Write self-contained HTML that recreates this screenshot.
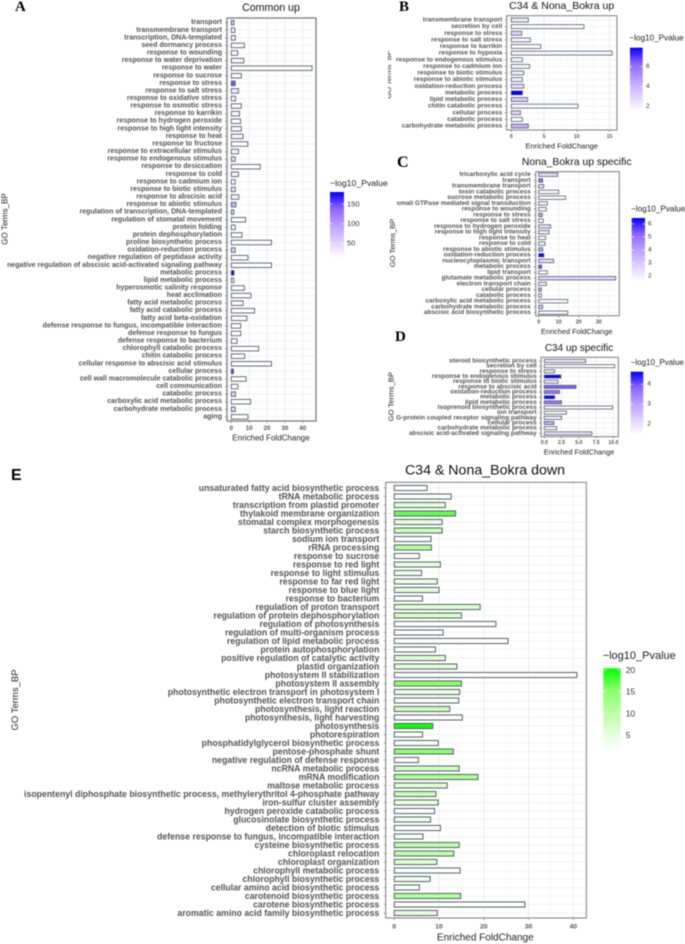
<!DOCTYPE html>
<html lang="en">
<head>
<meta charset="utf-8">
<title>GO enrichment panels</title>
<style>
html,body{margin:0;padding:0;background:#fff;width:685px;height:944px;overflow:hidden}
svg{display:block;filter:blur(0.45px)}
text{font-family:"Liberation Sans",sans-serif}
.title{fill:#111;text-anchor:middle;dominant-baseline:central}
.axt{fill:#222;text-anchor:middle;dominant-baseline:central}
.lgt{fill:#222;dominant-baseline:central}
.letter{font-family:"Liberation Serif",serif;font-weight:bold;fill:#000}
</style>
</head>
<body>
<svg id="figure" width="685" height="944" viewBox="0 0 685 944" xmlns="http://www.w3.org/2000/svg">
  <rect width="685" height="944" fill="#fff"/>
  <defs>
    <clipPath id="clip-b-title"><rect x="388" y="40" width="4" height="70"/></clipPath>
  </defs>

  <text class="letter" x="15" y="11" font-size="15">A</text>
  <text class="letter" x="399" y="11" font-size="15">B</text>
  <text class="letter" x="397" y="167" font-size="16">C</text>
  <text class="letter" x="395" y="341" font-size="15">D</text>
  <text x="11" y="480" font-size="16" font-weight="bold" fill="#000">E</text>

  <text class="title" x="271" y="8" font-size="10.6">Common up</text>
  <text class="title" x="561.7" y="6" font-size="10.5">C34 &amp; Nona_Bokra up</text>
  <text class="title" x="576.7" y="162.3" font-size="10.4">Nona_Bokra up specific</text>
  <text class="title" x="579" y="348.7" font-size="10">C34 up specific</text>
  <text class="title" x="485" y="470.7" font-size="14.2">C34 &amp; Nona_Bokra down</text>

  <text class="axt" x="271" y="438" font-size="8">Enriched FoldChange</text>
  <text class="axt" x="561.7" y="146" font-size="7.5">Enriched FoldChange</text>
  <text class="axt" x="576.7" y="331.7" font-size="7.4">Enriched FoldChange</text>
  <text class="axt" x="579" y="452" font-size="7.3">Enriched FoldChange</text>
  <text class="axt" x="485.3" y="938" font-size="10">Enriched FoldChange</text>

  <text class="axt" transform="translate(5 219) rotate(-90)" font-size="8">GO Terms_BP</text>
  <g clip-path="url(#clip-b-title)">
    <text class="axt" transform="translate(388.5 74.5) rotate(-90)" font-size="7.5">GO Terms_BP</text>
  </g>
  <text class="axt" transform="translate(392.7 243) rotate(-90)" font-size="7.5">GO Terms_BP</text>
  <text class="axt" transform="translate(391 396.7) rotate(-90)" font-size="7.7">GO Terms_BP</text>
  <text class="axt" transform="translate(15.7 700) rotate(-90)" font-size="9.5">GO Terms_BP</text>

  <text class="lgt" x="330" y="183" font-size="8.7">−log10_Pvalue</text>
  <text class="lgt" x="629.3" y="38" font-size="8.2">−log10_Pvalue</text>
  <text class="lgt" x="631" y="209" font-size="8.2">−log10_Pvalue</text>
  <text class="lgt" x="630.7" y="362.7" font-size="8">−log10_Pvalue</text>
  <text class="lgt" x="602.7" y="656" font-size="11">−log10_Pvalue</text>
</svg>

<script>
// ---------- Panel A: Common up ----------
const aTerms = ["transport","transmembrane transport","transcription, DNA-templated","seed dormancy process","response to wounding","response to water deprivation","response to water","response to sucrose","response to stress","response to salt stress","response to oxidative stress","response to osmotic stress","response to karrikin","response to hydrogen peroxide","response to high light intensity","response to heat","response to fructose","response to extracellular stimulus","response to endogenous stimulus","response to desiccation","response to cold","response to cadmium ion","response to biotic stimulus","response to abscisic acid","response to abiotic stimulus","regulation of transcription, DNA-templated","regulation of stomatal movement","protein folding","protein dephosphorylation","proline biosynthetic process","oxidation-reduction process","negative regulation of peptidase activity","negative regulation of abscisic acid-activated signaling pathway","metabolic process","lipid metabolic process","hyperosmotic salinity response","heat acclimation","fatty acid metabolic process","fatty acid catabolic process","fatty acid beta-oxidation","defense response to fungus, incompatible interaction","defense response to fungus","defense response to bacterium","chlorophyll catabolic process","chitin catabolic process","cellular response to abscisic acid stimulus","cellular process","cell wall macromolecule catabolic process","cell communication","catabolic process","carboxylic acid metabolic process","carbohydrate metabolic process","aging"];
const aFold = [1.5,2,2.2,7.3,3.6,7,45.2,5.6,2.2,4,2.4,5.6,4.6,5.2,5.6,6.6,9.2,4,2.2,16.2,4,2.2,2.2,4.2,2.6,1.4,8,2.2,6,22.5,2.2,9.3,22.5,1.5,1.4,7.3,11,6.6,13,8.7,5.3,5.3,3.2,15.3,7.5,22.5,1.2,8.3,3.7,2.4,10.8,2.2,9.3];
const aPval = [60,18,18,16,16,20,14,18,145,30,14,20,16,14,20,22,14,24,45,14,22,15,35,25,80,45,16,15,18,15,50,16,16,181,25,14,14,18,14,16,15,14,14,14,14,14,155,14,14,50,14,50,14];
const aTicks = [0,10,20,30,40];
const aLegendTicks = [150,100,50];
const aRange = [12,181];

// ---------- Panel B: C34 & Nona_Bokra up ----------
const bTerms = ["transmembrane transport","secretion by cell","response to stress","response to salt stress","response to karrikin","response to hypoxia","response to endogenous stimulus","response to cadmium ion","response to biotic stimulus","response to abiotic stimulus","oxidation-reduction process","metabolic process","lipid metabolic process","chitin catabolic process","cellular process","catabolic process","carbohydrate metabolic process"];
const bFold = [2.6,11.1,1.6,2.9,4.5,15.4,1.7,2.8,1.9,1.7,1.9,1.7,2.5,10.2,1.4,1.7,2.6];
const bPval = [2.2,1.7,3,2,1.7,1.9,1.6,1.9,2.2,2.2,2.7,7.9,3.3,1.7,3,1.6,4.2];
const bTicks = [0,5,10,15];
const bLegendTicks = [6,4,2];
const bRange = [1.5,7.9];

// ---------- Panel C: Nona_Bokra up specific ----------
const cTerms = ["tricarboxylic acid cycle","transport","transmembrane transport","toxin catabolic process","sucrose metabolic process","small GTPase mediated signal transduction","response to wounding","response to stress","response to salt stress","response to hydrogen peroxide","response to high light intensity","response to heat","response to cold","response to abiotic stimulus","oxidation-reduction process","nucleocytoplasmic transport","metabolic process","lipid transport","glutamate metabolic process","electron transport chain","cellular process","catabolic process","carboxylic acid metabolic process","carbohydrate metabolic process","abscisic acid biosynthetic process"];
const cFold = [9.5,2,2.5,10,13.5,4.3,3.8,1.8,2.3,6,5.2,3.5,3.2,2,2.6,7.5,1.5,4.3,38.5,3.8,1.3,1.4,14.5,2,14.5];
const cPval = [2.5,5,2.5,1.7,1.7,1.9,1.7,4,1.6,2.4,2.2,1.6,2,3.8,6.4,2.5,5.5,1.7,2.7,2.2,3.5,1.7,1.7,3.2,1.9];
const cTicks = [0,10,20,30];
const cLegendTicks = [6,5,4,3,2];
const cRange = [1.56,6.46];

// ---------- Panel D: C34 up specific ----------
const dTerms = ["steroid biosynthetic process","secretion by cell","response to stress","response to endogenous stimulus","response to biotic stimulus","response to abscisic acid","oxidation-reduction process","metabolic process","lipid metabolic process","isoprenoid biosynthetic process","ion transport","G-protein coupled receptor signaling pathway","cellular process","carbohydrate metabolic process","abscisic acid-activated signaling pathway"];
const dFold = [6,10.2,1.5,2.4,2,4.6,2.2,1.5,2.5,9.9,3.2,2.5,1.4,1.8,6.9];
const dPval = [1.9,1.5,1.9,4.6,1.8,3.9,3.6,4.6,3.6,1.5,1.6,1.7,2.8,1.6,2];
const dTicks = [0,2.5,5,7.5,10];
const dTickLabels = ["0.0","2.5","5.0","7.5","10.0"];
const dLegendTicks = [4,3,2];
const dRange = [1.45,4.63];

// ---------- Panel E: C34 & Nona_Bokra down ----------
const eTerms = ["unsaturated fatty acid biosynthetic process","tRNA metabolic process","transcription from plastid promoter","thylakoid membrane organization","stomatal complex morphogenesis","starch biosynthetic process","sodium ion transport","rRNA processing","response to sucrose","response to red light","response to light stimulus","response to far red light","response to blue light","response to bacterium","regulation of proton transport","regulation of protein dephosphorylation","regulation of photosynthesis","regulation of multi-organism process","regulation of lipid metabolic process","protein autophosphorylation","positive regulation of catalytic activity","plastid organization","photosystem II stabilization","photosystem II assembly","photosynthetic electron transport in photosystem I","photosynthetic electron transport chain","photosynthesis, light reaction","photosynthesis, light harvesting","photosynthesis","photorespiration","phosphatidylglycerol biosynthetic process","pentose-phosphate shunt","negative regulation of defense response","ncRNA metabolic process","mRNA modification","maltose metabolic process","isopentenyl diphosphate biosynthetic process, methylerythritol 4-phosphate pathway","iron-sulfur cluster assembly","hydrogen peroxide catabolic process","glucosinolate biosynthetic process","detection of biotic stimulus","defense response to fungus, incompatible interaction","cysteine biosynthetic process","chloroplast relocation","chloroplast organization","chlorophyll metabolic process","chlorophyll biosynthetic process","cellular amino acid biosynthetic process","carotenoid biosynthetic process","carotene biosynthetic process","aromatic amino acid family biosynthetic process"];
const eFold = [7.3,12.7,11.4,13.7,10.7,10.7,8.2,8.3,5.6,10.3,6.1,9.6,10,6.3,19.2,15,22.7,10.9,25.4,9.2,11.4,14,40.8,15,14.6,14.4,12.4,15.2,8.6,6.3,9.8,13.2,5.4,14.5,18.7,11.8,9.3,9.8,9,8.1,10.3,6.4,14.5,13.3,9.5,14.7,8,5.6,14.8,29.2,9.6];
const ePval = [2,3,6,17,5,9,2,11,1.7,5,4,4,5,3,6,7,1.7,2,2,2.5,6,6,1.8,15,5,3,8,2,20,2,3,15,1.7,8,12,6,9,5,1.7,4,1.8,3,10,10,6,1.9,4,3,11,2,5];
const eTicks = [0,10,20,30,40];
const eLegendTicks = [20,15,10,5];
const eRange = [1.5,20.4];

// ---------- Colour ramps (white to saturated, Lab-like) ----------
const blueRamp = ["#ffffff","#e1cfff","#bc9eff","#8e64ff","#0000ff"];
const greenRamp = ["#ffffff","#dcffd0","#b4ff9c","#84ff64","#00ff00"];

const NS = "http://www.w3.org/2000/svg";
const figure = document.getElementById("figure");

function make(tag, attrs, parent) {
  const el = document.createElementNS(NS, tag);
  for (const k in attrs) el.setAttribute(k, attrs[k]);
  parent.appendChild(el);
  return el;
}
function hex(c) {
  return [parseInt(c.slice(1,3),16), parseInt(c.slice(3,5),16), parseInt(c.slice(5,7),16)];
}
function rampColor(ramp, t) {
  t = Math.max(0, Math.min(1, t));
  const p = t * (ramp.length - 1);
  const i = Math.min(ramp.length - 2, Math.floor(p));
  const a = hex(ramp[i]), b = hex(ramp[i+1]);
  const f = p - i;
  return "rgb(" + a.map((v,k) => Math.round(v + (b[k]-v)*f)).join(",") + ")";
}

function drawPlot(g) {
  const group = make("g", {}, figure);
  
  
  const xScale = v => g.x0 + v * g.unit;
  const yScale = i => g.y0 + i * g.dy;
  const step = g.ticks[1] - g.ticks[0];

  const plotBg = make("rect", {x:g.l, y:g.t, width:g.r-g.l, height:g.b-g.t, fill:"#fff"}, group);
  
  

  // vertical minor grid
  for (let v = g.ticks[0] + step/2; xScale(v) < g.r; v += step) {
    const m = make("line", {x1:xScale(v), x2:xScale(v), y1:g.t, y2:g.b, stroke:"#f3f3f3", "stroke-width":0.5}, group);
    
    
  }
  // vertical major grid + x ticks
  g.ticks.forEach((v, i) => {
    const x = xScale(v);
    const gl = make("line", {x1:x, x2:x, y1:g.t, y2:g.b, stroke:"#e8e8e8", "stroke-width":0.8}, group);
    
    
    const tk = make("line", {x1:x, x2:x, y1:g.b, y2:g.b+2, stroke:"#666", "stroke-width":0.6}, group);
    
    
    const tl = make("text", {x:x, y:g.tickY, "text-anchor":"middle", "dominant-baseline":"central", "font-size":g.tickSize, "font-weight":"bold", fill:"#555"}, group);
    
    
    tl.textContent = g.tickLabels ? g.tickLabels[i] : v;
  });
  // rows
  g.terms.forEach((term, i) => {
    const y = yScale(i);
    const rowGrid = make("line", {x1:g.l, x2:g.r, y1:y, y2:y, stroke:"#eeeeee", "stroke-width":0.7}, group);
    
    
    const tk = make("line", {x1:g.l-2, x2:g.l, y1:y, y2:y, stroke:"#666", "stroke-width":0.6}, group);
    
    
    const lab = make("text", {x:g.labelRight, y:y, "text-anchor":"end", "dominant-baseline":"central", "font-size":g.labelSize, "font-weight":"bold", fill:"#555"}, group);
    
    
    lab.textContent = term;
  });
  // bars
  g.terms.forEach((term, i) => {
    const h = g.dy * 0.6;
    const t = (g.pval[i] - g.range[0]) / (g.range[1] - g.range[0]);
    const bar = make("rect", {x:xScale(0), y:yScale(i)-h/2, width:xScale(g.fold[i])-xScale(0), height:h, fill:rampColor(g.ramp, t), stroke:"#56606c", "stroke-width":g.barStroke}, group);
    
    
  });
  const frame = make("rect", {x:g.l, y:g.t, width:g.r-g.l, height:g.b-g.t, fill:"none", stroke:"#858585", "stroke-width":g.frame}, group);
  
  
}

function drawLegend(g) {
  const group = make("g", {}, figure);
  
  
  const defs = make("linearGradient", {id:"grad-"+g.id, x1:0, x2:0, y1:1, y2:0}, group);
  g.ramp.forEach((c, i) => make("stop", {offset:i/(g.ramp.length-1), "stop-color":c}, defs));
  const bar = make("rect", {x:g.l, y:g.t, width:g.w, height:g.b-g.t, fill:"url(#grad-"+g.id+")"}, group);
  
  
  const lScale = v => g.b - (v - g.range[0]) / (g.range[1] - g.range[0]) * (g.b - g.t);
  g.ticks.forEach(v => {
    const y = lScale(v);
    const t1 = make("line", {x1:g.l, x2:g.l+g.w*0.2, y1:y, y2:y, stroke:"#fff", "stroke-width":0.6}, group);
    
    
    const t2 = make("line", {x1:g.l+g.w*0.8, x2:g.l+g.w, y1:y, y2:y, stroke:"#fff", "stroke-width":0.6}, group);
    
    
    const lab = make("text", {x:g.labelX, y:y, "dominant-baseline":"central", "font-size":g.size, fill:"#333"}, group);
    
    
    lab.textContent = v;
  });
}

drawPlot({terms:aTerms, fold:aFold, pval:aPval, ticks:aTicks, range:aRange, ramp:blueRamp,
  l:227, r:316, t:18, b:421, x0:231.3, unit:1.785, y0:22.7, dy:7.58,
  labelRight:222, labelSize:7.06, tickY:428.7, tickSize:6.2, barStroke:0.9, frame:1.4});
drawPlot({terms:bTerms, fold:bFold, pval:bPval, ticks:bTicks, range:bRange, ramp:blueRamp,
  l:506.7, r:617, t:15.7, b:130, x0:511.3, unit:6.55, y0:20, dy:6.625,
  labelRight:502.3, labelSize:6.54, tickY:137, tickSize:5.2, barStroke:0.8, frame:1.1});
drawPlot({terms:cTerms, fold:cFold, pval:cPval, ticks:cTicks, range:cRange, ramp:blueRamp,
  l:535.7, r:619.3, t:171.7, b:315.7, x0:538.7, unit:2, y0:174.7, dy:5.75,
  labelRight:530.7, labelSize:6.47, tickY:322.3, tickSize:5.4, barStroke:0.8, frame:1.1});
drawPlot({terms:dTerms, fold:dFold, pval:dPval, ticks:dTicks, tickLabels:dTickLabels, range:dRange, ramp:blueRamp,
  l:541, r:618.3, t:357.3, b:436.7, x0:544.3, unit:6.9, y0:361, dy:5.17,
  labelRight:536.7, labelSize:6.45, tickY:443, tickSize:5.2, barStroke:0.8, frame:1.1});
drawPlot({terms:eTerms, fold:eFold, pval:ePval, ticks:eTicks, range:eRange, ramp:greenRamp,
  l:385.7, r:586.3, t:482.3, b:918, x0:394.3, unit:4.475, y0:488, dy:8.5,
  labelRight:379.3, labelSize:8.74, tickY:927, tickSize:6.8, barStroke:1, frame:1.1});

drawLegend({id:"a", ramp:blueRamp, range:aRange, ticks:aLegendTicks, l:330, w:14, t:192, b:258, labelX:347, size:7.5});
drawLegend({id:"b", ramp:blueRamp, range:bRange, ticks:bLegendTicks, l:630, w:12.7, t:47.7, b:111.7, labelX:646, size:6.5});
drawLegend({id:"c", ramp:blueRamp, range:cRange, ticks:cLegendTicks, l:631.7, w:13.3, t:218, b:281.7, labelX:648, size:6.5});
drawLegend({id:"d", ramp:blueRamp, range:dRange, ticks:dLegendTicks, l:630.7, w:12.6, t:371.7, b:435, labelX:647.3, size:6.5});
drawLegend({id:"e", ramp:greenRamp, range:eRange, ticks:eLegendTicks, l:603.3, w:17.4, t:668.3, b:750, labelX:625.7, size:8.5});
</script>
</body>
</html>
